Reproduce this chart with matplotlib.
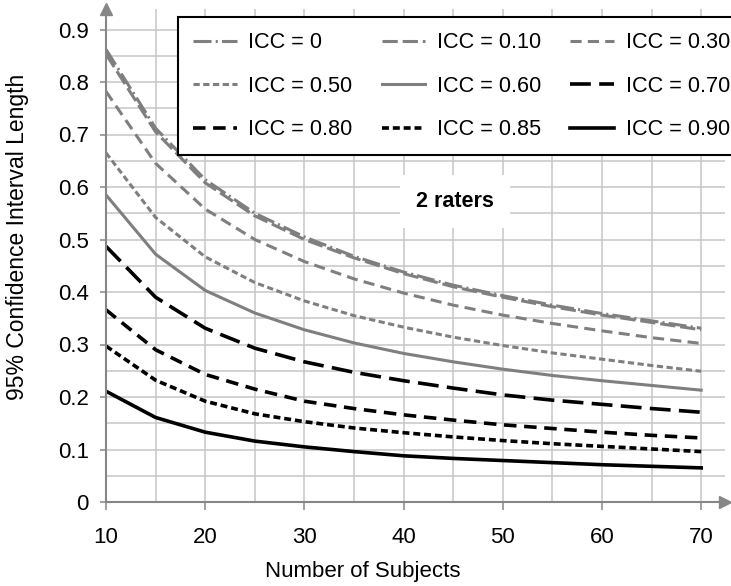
import matplotlib
matplotlib.use("Agg")
import matplotlib.pyplot as plt

plt.rcParams['font.family'] = ['Liberation Sans', 'DejaVu Sans']
plt.rcParams['lines.scale_dashes'] = False

# number of subjects
subjects = [10, 15, 20, 25, 30, 35, 40, 45, 50, 55, 60, 65, 70]

# 95% CI length, one list per ICC
icc_0 = [0.862, 0.712, 0.614, 0.550, 0.505, 0.468, 0.438, 0.413, 0.393, 0.375, 0.359, 0.345, 0.331]
icc_10 = [0.853, 0.705, 0.608, 0.545, 0.500, 0.465, 0.435, 0.410, 0.390, 0.372, 0.356, 0.342, 0.328]
icc_30 = [0.782, 0.645, 0.558, 0.500, 0.458, 0.425, 0.398, 0.375, 0.356, 0.340, 0.326, 0.313, 0.302]
icc_50 = [0.665, 0.542, 0.467, 0.418, 0.383, 0.355, 0.333, 0.314, 0.298, 0.284, 0.272, 0.260, 0.249]
icc_60 = [0.585, 0.472, 0.403, 0.360, 0.328, 0.303, 0.283, 0.267, 0.253, 0.241, 0.231, 0.222, 0.213]
icc_70 = [0.487, 0.390, 0.331, 0.293, 0.267, 0.247, 0.231, 0.217, 0.204, 0.194, 0.186, 0.178, 0.171]
icc_80 = [0.366, 0.290, 0.243, 0.215, 0.192, 0.178, 0.166, 0.156, 0.147, 0.140, 0.133, 0.127, 0.122]
icc_85 = [0.297, 0.232, 0.192, 0.168, 0.153, 0.141, 0.132, 0.124, 0.117, 0.111, 0.106, 0.101, 0.096]
icc_90 = [0.211, 0.161, 0.133, 0.116, 0.105, 0.096, 0.088, 0.083, 0.079, 0.075, 0.071, 0.068, 0.065]

labels = ['ICC = 0', 'ICC = 0.10', 'ICC = 0.30', 'ICC = 0.50', 'ICC = 0.60',
          'ICC = 0.70', 'ICC = 0.80', 'ICC = 0.85', 'ICC = 0.90']
x_ticks = [10, 20, 30, 40, 50, 60, 70]
y_ticks = [0, 0.1, 0.2, 0.3, 0.4, 0.5, 0.6, 0.7, 0.8, 0.9]
y_ticklabels = ['0', '0.1', '0.2', '0.3', '0.4', '0.5', '0.6', '0.7', '0.8', '0.9']

GREY = '#7f7f7f'
AXIS = '#868686'
GRID = '#c6c6c6'

W, H = 731, 586
fig = plt.figure(figsize=(W / 100, H / 100), dpi=100)
ax = fig.add_axes([106 / W, 1 - 502 / H, (725 - 106) / W, (502 - 9) / H])

series = [icc_0, icc_10, icc_30, icc_50, icc_60, icc_70, icc_80, icc_85, icc_90]
styles = [
    (GREY, 2.2, (0, (13, 3, 1.5, 3))),
    (GREY, 2.2, (0, (11, 3.5))),
    (GREY, 2.2, (0, (8, 4.5))),
    (GREY, 2.2, (0, (4.5, 2.5))),
    (GREY, 2.2, '-'),
    ('black', 2.6, (0, (15, 6))),
    ('black', 2.6, (0, (9, 5.5))),
    ('black', 2.6, (0, (5, 2.8))),
    ('black', 2.6, '-'),
]
handles = []
for vals, lab, (c, lw, ls) in zip(series, labels, styles):
    h, = ax.plot(subjects, vals, color=c, lw=lw, ls=ls, label=lab, zorder=3)
    handles.append(h)

# 10 subjects = 99.2 px
ax.set_xlim(10, 10 + (725 - 106) / 9.92)
ax.set_ylim(0, 493 / 525)
ax.set_xticks(x_ticks)
ax.set_xticks([15, 25, 35, 45, 55, 65], minor=True)
ax.set_yticks(y_ticks)
ax.set_yticklabels(y_ticklabels)
ax.set_yticks([0.05 + 0.1 * i for i in range(9)], minor=True)
ax.grid(True, which='both', color=GRID, lw=1.1, zorder=0)
ax.set_axisbelow(True)

for s in ['top', 'right']:
    ax.spines[s].set_visible(False)
for s in ['left', 'bottom']:
    ax.spines[s].set_color(AXIS)
    ax.spines[s].set_linewidth(1.5)
    ax.spines[s].set_zorder(4)
ax.tick_params(axis='x', which='major', length=6, width=1.1, color=AXIS, pad=12, labelsize=16)
ax.tick_params(axis='y', which='major', length=4.5, width=1.1, color=AXIS, pad=8, labelsize=16)
ax.tick_params(which='minor', length=0)

# arrow heads on the axes
ax.plot([0], [1], marker='^', ms=8, color=AXIS, transform=ax.transAxes, clip_on=False, zorder=5)
ax.plot([1], [0], marker='>', ms=8, color=AXIS, transform=ax.transAxes, clip_on=False, zorder=5)

fig.text(363 / W, 1 - 572 / H, 'Number of Subjects', ha='center', va='center', fontsize=16)
fig.text(18 / W, 1 - 237 / H, '95% Confidence Interval Length', ha='center', va='center',
         rotation=90, fontsize=16.5)

ax.text(0.564, 0.609, '2 raters', transform=ax.transAxes, ha='center', va='center',
        fontsize=15.5, fontweight='bold', zorder=6,
        bbox=dict(boxstyle='square,pad=0.75', fc='white', ec='none'))

order = [0, 3, 6, 1, 4, 7, 2, 5, 8]
leg = ax.legend([handles[i] for i in order], [labels[i] for i in order], ncol=3,
                loc='upper left', bbox_to_anchor=(178 / W, 1 - 17 / H, (745 - 178) / W, 0),
                bbox_transform=fig.transFigure, mode='expand', borderaxespad=0,
                fontsize=15.6, handlelength=2.0, handletextpad=0.55, columnspacing=1.35,
                labelspacing=1.04, borderpad=0.7, fancybox=False, framealpha=1,
                edgecolor='black')
leg.get_frame().set_linewidth(1.5)
leg.set_zorder(7)

fig.savefig('out.png', dpi=100)
